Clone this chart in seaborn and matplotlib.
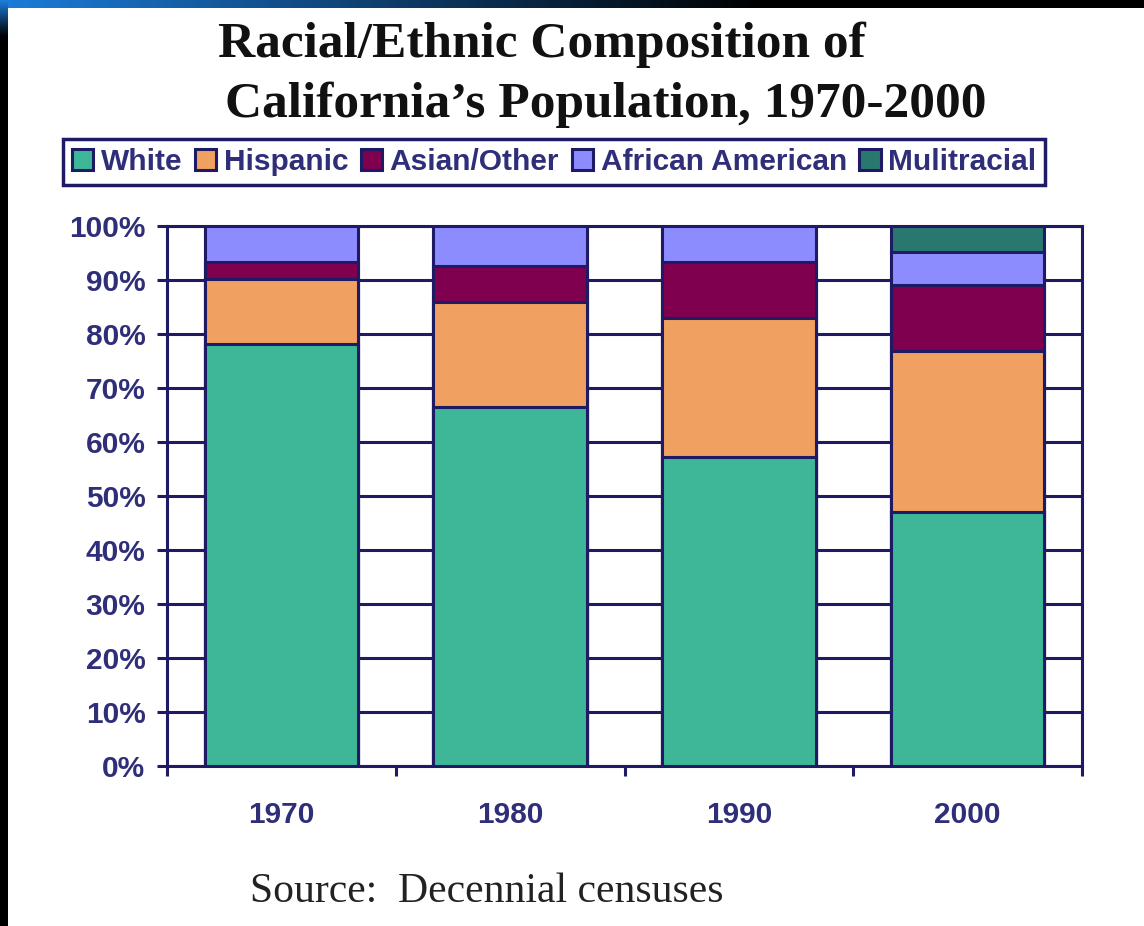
import numpy as np
import pandas as pd
import matplotlib
matplotlib.use("Agg")
import matplotlib.pyplot as plt
import seaborn as sns
from matplotlib.patches import Patch

# Share of California's population by group, percent of total
years = ["1970", "1980", "1990", "2000"]
white = [78.1, 66.5, 57.3, 47.0]
hispanic = [12.0, 19.5, 25.6, 29.9]
asian_other = [3.2, 6.6, 10.4, 12.1]
african_american = [6.7, 7.4, 6.7, 6.1]
multiracial = [0.0, 0.0, 0.0, 4.9]

groups = ["White", "Hispanic", "Asian/Other", "African American", "Mulitracial"]
colors = ["#3DB797", "#F0A060", "#800050", "#8C8CFF", "#287870"]
ytick_vals = list(range(0, 101, 10))
ytick_labels = [f"{v}%" for v in ytick_vals]

NAVY = "#1E1A64"
LABEL = "#2F2E78"

sns.set_theme(style="white")
plt.rcParams["font.family"] = ["Liberation Sans", "DejaVu Sans"]

rows = []
for i, yr in enumerate(years):
    vals = [white[i], hispanic[i], asian_other[i], african_american[i], multiracial[i]]
    for g, v in zip(groups, vals):
        rows.append({"year": yr, "group": g, "share": v})
df = pd.DataFrame(rows)
df["group"] = pd.Categorical(df["group"], categories=groups, ordered=True)
df = df.sort_values(["year", "group"])
df["top"] = df.groupby("year")["share"].cumsum()

W, H = 1144, 926
fig = plt.figure(figsize=(W / 100, H / 100), dpi=100)
fig.patch.set_facecolor("white")

# Slide frame: dark strip on the left and a blue-to-black band along the top
frame = np.ones((H, W, 3))
blue = np.array([0.11, 0.49, 0.86])
xs = np.arange(W)
fade_x = np.clip(1 - xs / 760.0, 0, 1)[:, None]
frame[:8, :, :] = (blue[None, :] * fade_x)[None, :, :]
ys = np.arange(H)
fade_y = np.clip(1 - ys / 36.0, 0, 1)[:, None]
frame[:, :8, :] = (blue[None, :] * fade_y)[:, None, :]
fig.figimage(frame, 0, 0, zorder=-5)

ax = fig.add_axes([167 / W, 1 - 766 / H, (1082 - 167) / W, (766 - 226) / H])
ax.set_facecolor("white")

# Stacked bars: draw cumulative tops from the outermost layer inward
for g, c in reversed(list(zip(groups, colors))):
    sub = df[df["group"] == g]
    sns.barplot(data=sub, x="year", y="top", order=years, color=c,
                saturation=1, width=0.67, errorbar=None,
                edgecolor=NAVY, linewidth=2.2, ax=ax, zorder=3)

ax.set_ylim(0, 100)
ax.set_xlim(-0.5, len(years) - 0.5)
ax.set_yticks(ytick_vals)
ax.set_yticklabels(ytick_labels)
ax.yaxis.grid(True, color=NAVY, linewidth=2.2)
ax.xaxis.grid(False)
ax.set_axisbelow(True)
ax.set_xlabel("")
ax.set_ylabel("")

for s in ax.spines.values():
    s.set_visible(True)
    s.set_color(NAVY)
    s.set_linewidth(2.2)

ax.tick_params(axis="y", which="major", left=True, length=7.5, width=2.2,
               color=NAVY, pad=8, labelsize=21.5, labelcolor=LABEL)
for t in ax.get_yticklabels():
    t.set_fontweight("bold")

ax.set_xticks(range(len(years)))
ax.set_xticklabels(years)
ax.tick_params(axis="x", which="major", bottom=True, length=0, pad=25,
               labelsize=21.5, labelcolor=LABEL)
for t in ax.get_xticklabels():
    t.set_fontweight("bold")
ax.set_xticks(np.arange(-0.5, len(years)), minor=True)
ax.tick_params(axis="x", which="minor", bottom=True, length=7.5, width=2.2,
               color=NAVY)

# Title and source note
serif = ["Liberation Serif", "DejaVu Serif"]
fig.text(218 / W, 1 - 57 / H, "Racial/Ethnic Composition of", family=serif,
         fontsize=37, fontweight="bold", color="#111111", ha="left", va="baseline")
fig.text(225 / W, 1 - 117 / H, "California\u2019s Population, 1970-2000", family=serif,
         fontsize=37, fontweight="bold", color="#111111", ha="left", va="baseline")
fig.text(250 / W, 1 - 902 / H, "Source:  Decennial censuses", family=serif,
         fontsize=30, color="#222222", ha="left", va="baseline")

handles = [Patch(facecolor=c, edgecolor=NAVY, linewidth=2.2) for c in colors]
leg = fig.legend(handles, groups, ncol=5, loc="center",
                 bbox_to_anchor=(554 / W, 1 - 162 / H),
                 frameon=True, fancybox=False, framealpha=1,
                 edgecolor=NAVY, prop={"weight": "bold", "size": 21.5},
                 labelcolor=LABEL, handlelength=0.72, handleheight=0.72,
                 handletextpad=0.25, columnspacing=0.42, borderpad=0.3,
                 borderaxespad=0)
leg.get_frame().set_linewidth(2.5)

fig.savefig("out.png", dpi=100)
